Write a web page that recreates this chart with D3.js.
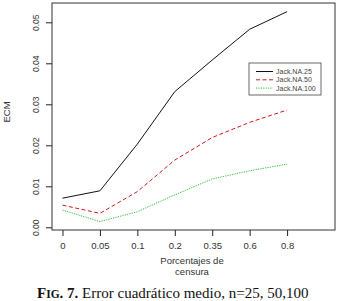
<!DOCTYPE html>
<html>
<head>
<meta charset="utf-8">
<script src="https://cdn.jsdelivr.net/npm/d3@7"></script>
<style>
  body { margin: 0; background: #fff; }
  text { font-family: "Liberation Sans", Arial, sans-serif; }
  text.caption { font-family: "Liberation Serif", "Times New Roman", serif; }
</style>
</head>
<body>
<div id="chart"></div>
<script>
// data
const categories = ["0", "0.05", "0.1", "0.2", "0.35", "0.6", "0.8"];
const jack25 = [0.0071, 0.0089, 0.0203, 0.0331, 0.0408, 0.0483, 0.0526];
const jack50 = [0.0054, 0.0034, 0.0087, 0.0164, 0.0219, 0.0256, 0.0286];
const jack100 = [0.0042, 0.0014, 0.0038, 0.0079, 0.0118, 0.0138, 0.0154];
const yTicks = [0, 0.01, 0.02, 0.03, 0.04, 0.05];
const seriesNames = ["Jack.NA.25", "Jack.NA.50", "Jack.NA.100"];

const series = [
    { name: seriesNames[0], values: jack25, color: "#111111", dash: null },
    { name: seriesNames[1], values: jack50, color: "#cc1a1a", dash: "4,2.5" },
    { name: seriesNames[2], values: jack100, color: "#33bb33", dash: "1.2,1.2" }
];

const width = 339, height = 301;
const plot = { left: 52, right: 335, top: 3, bottom: 230 };

const svg = d3.select("#chart")
    .append("svg")
    .attr("width", width)
    .attr("height", height);

// x is the category index (1..7), R-style padding on the range
const x = d3.scaleLinear()
    .domain([0.72, 8.28])
    .range([plot.left, plot.right]);

const y = d3.scaleLinear()
    .domain([-0.00066, 0.05471])
    .range([plot.bottom, plot.top]);

// box
svg.append("rect")
    .attr("x", plot.left)
    .attr("y", plot.top)
    .attr("width", plot.right - plot.left)
    .attr("height", plot.bottom - plot.top)
    .attr("fill", "none")
    .attr("stroke", "#333")
    .attr("stroke-width", 1);

// y axis
const yAxis = svg.append("g")
    .attr("transform", "translate(" + plot.left + ",0)")
    .call(d3.axisLeft(y).tickValues(yTicks).tickFormat(d3.format(".2f")).tickSize(6).tickSizeOuter(0));
yAxis.select(".domain").remove();
yAxis.selectAll("line").attr("stroke", "#222");
yAxis.selectAll("text")
    .attr("transform", "rotate(-90)")
    .attr("x", 0)
    .attr("y", -16)
    .attr("dy", "0.35em")
    .attr("text-anchor", "middle")
    .attr("font-size", "8.5px")
    .attr("fill", "#333");

// x axis
const xAxis = svg.append("g")
    .attr("transform", "translate(0," + plot.bottom + ")")
    .call(d3.axisBottom(x).tickValues(d3.range(1, categories.length + 1))
        .tickFormat((d) => categories[d - 1]).tickSize(6).tickSizeOuter(0));
xAxis.select(".domain").remove();
xAxis.selectAll("line").attr("stroke", "#222");
xAxis.selectAll("text")
    .attr("y", 12)
    .attr("font-size", "9.5px")
    .attr("fill", "#333");

// axis titles
svg.append("text")
    .attr("transform", "translate(10,112) rotate(-90)")
    .attr("text-anchor", "middle")
    .attr("font-size", "9.5px")
    .attr("fill", "#333")
    .text("ECM");

svg.append("text")
    .attr("x", 192)
    .attr("y", 264)
    .attr("text-anchor", "middle")
    .attr("font-size", "9.5px")
    .attr("fill", "#333")
    .text("Porcentajes de");

svg.append("text")
    .attr("x", 192)
    .attr("y", 275)
    .attr("text-anchor", "middle")
    .attr("font-size", "9.5px")
    .attr("fill", "#333")
    .text("censura");

// lines
const line = d3.line()
    .x((d, i) => x(i + 1))
    .y((d) => y(d));

svg.selectAll(".series")
    .data(series)
    .enter()
    .append("path")
    .attr("class", "series")
    .attr("d", (d) => line(d.values))
    .attr("fill", "none")
    .attr("stroke", (d) => d.color)
    .attr("stroke-width", 1)
    .attr("stroke-dasharray", (d) => d.dash);

// legend
const legend = svg.append("g").attr("transform", "translate(249,63)");
legend.append("rect")
    .attr("width", 72)
    .attr("height", 32)
    .attr("fill", "#fff")
    .attr("stroke", "#444")
    .attr("stroke-width", 0.8);

const rows = legend.selectAll(".row")
    .data(series)
    .enter()
    .append("g")
    .attr("class", "row")
    .attr("transform", (d, i) => "translate(0," + (8.5 + i * 8.3) + ")");
rows.append("line")
    .attr("x1", 7).attr("x2", 24)
    .attr("stroke", (d) => d.color)
    .attr("stroke-width", 1)
    .attr("stroke-dasharray", (d) => d.dash);
rows.append("text")
    .attr("x", 27)
    .attr("dy", "0.35em")
    .attr("font-size", "7px")
    .attr("fill", "#444")
    .text((d) => d.name);

// caption
const cap = svg.append("text")
    .attr("class", "caption")
    .attr("x", 37)
    .attr("y", 298)
    .attr("font-size", "15px")
    .attr("fill", "#111");
cap.append("tspan").attr("font-weight", "bold").text("F");
cap.append("tspan").attr("font-weight", "bold").attr("font-size", "11.5px").text("IG");
cap.append("tspan").attr("font-weight", "bold").text(". 7.");
cap.append("tspan").text(" Error cuadrático medio, n=25, 50,100");
</script>
</body>
</html>
